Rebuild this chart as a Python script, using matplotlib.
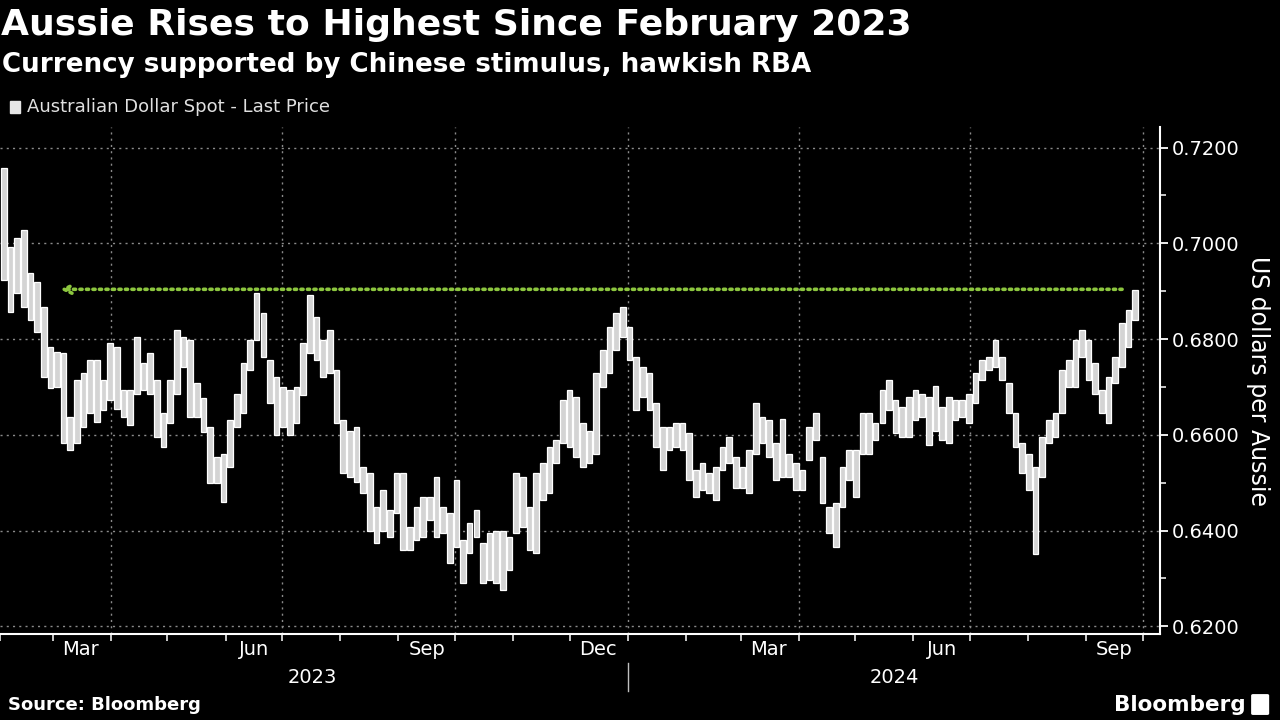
import numpy as np
import pandas as pd
import matplotlib
matplotlib.use("Agg")
import matplotlib.pyplot as plt
import matplotlib.dates as mdates
from matplotlib.ticker import MultipleLocator, FixedLocator, NullFormatter

# high / low of the AUD spot band, every ~3.5 days
hi = [0.7157, 0.6993, 0.7011, 0.7028, 0.6938, 0.6919, 0.6867, 0.6783, 0.6773, 0.6771,
      0.6637, 0.6714, 0.6729, 0.6756, 0.6756, 0.6714, 0.6792, 0.6783, 0.6693, 0.6693,
      0.6804, 0.6750, 0.6771, 0.6714, 0.6645, 0.6714, 0.6819, 0.6804, 0.6798, 0.6708,
      0.6676, 0.6616, 0.6553, 0.6561, 0.6630, 0.6686, 0.6750, 0.6798, 0.6896, 0.6854,
      0.6756, 0.6720, 0.6699, 0.6693, 0.6699, 0.6792, 0.6892, 0.6846, 0.6798, 0.6819,
      0.6735, 0.6630, 0.6609, 0.6616, 0.6532, 0.6520, 0.6449, 0.6484, 0.6443, 0.6520,
      0.6520, 0.6407, 0.6449, 0.6470, 0.6470, 0.6512, 0.6449, 0.6436, 0.6505, 0.6380,
      0.6415, 0.6443, 0.6374, 0.6394, 0.6400, 0.6400, 0.6386, 0.6520, 0.6512, 0.6449,
      0.6520, 0.6541, 0.6574, 0.6589, 0.6672, 0.6693, 0.6679, 0.6624, 0.6609, 0.6729,
      0.6777, 0.6825, 0.6854, 0.6867, 0.6825, 0.6762, 0.6741, 0.6729, 0.6666, 0.6616,
      0.6616, 0.6624, 0.6624, 0.6603, 0.6526, 0.6541, 0.6520, 0.6532, 0.6574, 0.6595,
      0.6553, 0.6532, 0.6568, 0.6666, 0.6637, 0.6630, 0.6583, 0.6634, 0.6561, 0.6541,
      0.6526, 0.6616, 0.6645, 0.6553, 0.6449, 0.6457, 0.6532, 0.6568, 0.6568, 0.6645,
      0.6645, 0.6624, 0.6693, 0.6714, 0.6672, 0.6658, 0.6679, 0.6693, 0.6686, 0.6679,
      0.6703, 0.6658, 0.6679, 0.6672, 0.6672, 0.6686, 0.6729, 0.6756, 0.6762, 0.6798,
      0.6762, 0.6708, 0.6645, 0.6583, 0.6561, 0.6532, 0.6595, 0.6630, 0.6645, 0.6735,
      0.6756, 0.6798, 0.6819, 0.6798, 0.6750, 0.6693, 0.6720, 0.6762, 0.6833, 0.6860,
      0.6902]
lo = [0.6924, 0.6856, 0.6896, 0.6867, 0.6840, 0.6815, 0.6720, 0.6697, 0.6699, 0.6583,
      0.6568, 0.6583, 0.6616, 0.6645, 0.6627, 0.6651, 0.6672, 0.6655, 0.6637, 0.6620,
      0.6686, 0.6693, 0.6686, 0.6595, 0.6574, 0.6624, 0.6686, 0.6741, 0.6637, 0.6637,
      0.6605, 0.6499, 0.6499, 0.6459, 0.6532, 0.6616, 0.6645, 0.6735, 0.6798, 0.6762,
      0.6666, 0.6599, 0.6616, 0.6599, 0.6624, 0.6683, 0.6771, 0.6756, 0.6720, 0.6729,
      0.6624, 0.6520, 0.6511, 0.6501, 0.6478, 0.6400, 0.6374, 0.6400, 0.6386, 0.6436,
      0.6359, 0.6359, 0.6380, 0.6386, 0.6422, 0.6386, 0.6394, 0.6332, 0.6365, 0.6290,
      0.6353, 0.6386, 0.6290, 0.6296, 0.6290, 0.6275, 0.6317, 0.6394, 0.6407, 0.6359,
      0.6353, 0.6463, 0.6478, 0.6541, 0.6583, 0.6574, 0.6553, 0.6532, 0.6541, 0.6561,
      0.6699, 0.6729, 0.6777, 0.6804, 0.6756, 0.6651, 0.6679, 0.6651, 0.6574, 0.6526,
      0.6568, 0.6574, 0.6568, 0.6505, 0.6470, 0.6484, 0.6478, 0.6463, 0.6526, 0.6541,
      0.6490, 0.6490, 0.6478, 0.6561, 0.6583, 0.6553, 0.6505, 0.6511, 0.6511, 0.6484,
      0.6484, 0.6547, 0.6589, 0.6457, 0.6394, 0.6365, 0.6449, 0.6505, 0.6470, 0.6561,
      0.6561, 0.6589, 0.6624, 0.6651, 0.6603, 0.6595, 0.6595, 0.6630, 0.6637, 0.6578,
      0.6609, 0.6589, 0.6583, 0.6630, 0.6637, 0.6624, 0.6666, 0.6714, 0.6735, 0.6741,
      0.6714, 0.6645, 0.6574, 0.6520, 0.6484, 0.6352, 0.6511, 0.6583, 0.6595, 0.6645,
      0.6699, 0.6699, 0.6762, 0.6714, 0.6686, 0.6645, 0.6624, 0.6708, 0.6741, 0.6783,
      0.6840]
dates = pd.date_range("2023-02-03", "2024-09-27", periods=len(hi))
feb_level = 0.6904

hi = np.array(hi)
lo = np.array(lo)

plt.rcParams['font.family'] = ['DejaVu Sans']
fig = plt.figure(figsize=(12.8, 7.2), dpi=100, facecolor='black')
ax = fig.add_axes([0.0, 0.1194, 0.906, 0.7042])
ax.set_facecolor('black')

# gridlines
for v in np.arange(0.62, 0.7201, 0.02):
    ax.axhline(v, color='#8a8a8a', ls=(0, (1.5, 3)), lw=1, zorder=1)
for d in pd.date_range("2023-04-01", "2024-10-01", freq="QS"):
    ax.axvline(d, color='#8a8a8a', ls=(0, (1.5, 3)), lw=1, zorder=1)

# price bars
ax.bar(dates, hi - lo, bottom=lo, width=3.0, color='#d4d4d4',
       edgecolor='white', linewidth=0.9, zorder=3)

# green dotted reference line with arrow
ax.annotate('', xy=(pd.Timestamp("2023-03-05"), feb_level),
            xytext=(pd.Timestamp("2024-09-20"), feb_level),
            arrowprops=dict(arrowstyle='->', color='#8cc63f', lw=2.6,
                            linestyle=(0, (0.6, 1.2)), mutation_scale=14,
                            shrinkA=0, shrinkB=0), zorder=2)

ax.set_xlim(pd.Timestamp("2023-02-01"), pd.Timestamp("2024-10-10"))
ax.set_ylim(0.6184, 0.7243)

# spines
for s in ['top', 'left']:
    ax.spines[s].set_visible(False)
ax.spines['right'].set_color('white')
ax.spines['bottom'].set_color('white')
ax.spines['right'].set_linewidth(1.5)
ax.spines['bottom'].set_linewidth(1.5)

# y axis on the right
ax.yaxis.tick_right()
ax.yaxis.set_label_position('right')
ax.yaxis.set_major_locator(MultipleLocator(0.02))
ax.yaxis.set_minor_locator(MultipleLocator(0.01))
ax.yaxis.set_major_formatter(matplotlib.ticker.FormatStrFormatter('%.4f'))
ax.tick_params(axis='y', which='major', colors='white', length=6, width=1.3,
               labelsize=14, pad=3, direction='out')
ax.tick_params(axis='y', which='minor', colors='white', length=4, width=1.1)
ax.set_ylabel('US dollars per Aussie', color='white', fontsize=17,
              rotation=-90, labelpad=22)

# x axis: monthly ticks, labels mid-month for Mar/Jun/Sep/Dec
ax.xaxis.set_major_locator(mdates.MonthLocator())
ax.xaxis.set_major_formatter(NullFormatter())
ax.tick_params(axis='x', which='major', colors='white', length=5, width=1.1)
mid_months = [pd.Timestamp(m) for m in ["2023-03-16", "2023-06-16", "2023-09-16",
                                          "2023-12-16", "2024-03-16", "2024-06-16",
                                          "2024-09-16"]]
month_names = ["Mar", "Jun", "Sep", "Dec", "Mar", "Jun", "Sep"]
ax.xaxis.set_minor_locator(FixedLocator(mdates.date2num(mid_months)))
ax.xaxis.set_minor_formatter(matplotlib.ticker.FixedFormatter(month_names))
ax.tick_params(axis='x', which='minor', length=0, labelsize=14, colors='white', pad=4)

trans = ax.get_xaxis_transform()
years = [("2023", pd.Timestamp("2023-07-17")), ("2024", pd.Timestamp("2024-05-22"))]
for txt, d in years:
    ax.text(d, -0.085, txt, transform=trans, ha='center', va='center',
            color='white', fontsize=14)
ax.plot([pd.Timestamp("2024-01-01")] * 2, [-0.058, -0.112], transform=trans,
        color='#bfbfbf', lw=1, clip_on=False)

# titles and legend
fig.text(0.0005, 0.965, 'Aussie Rises to Highest Since February 2023', color='white',
         fontsize=26, fontweight='bold', ha='left', va='center')
fig.text(0.0015, 0.91, 'Currency supported by Chinese stimulus, hawkish RBA', color='white',
         fontsize=18.8, fontweight='bold', ha='left', va='center')
fig.patches.append(matplotlib.patches.Rectangle((0.0078, 0.843), 0.0078, 0.017,
                   transform=fig.transFigure, color='#e6e6e6'))
fig.text(0.021, 0.852, 'Australian Dollar Spot - Last Price', color='#e0e0e0',
         fontsize=13, ha='left', va='center')

fig.text(0.006, 0.021, 'Source: Bloomberg', color='white', fontsize=13,
         fontweight='bold', ha='left', va='center')
fig.text(0.973, 0.021, 'Bloomberg', color='white', fontsize=15.5,
         fontweight='bold', ha='right', va='center')
fig.patches.append(matplotlib.patches.FancyBboxPatch((0.979, 0.009), 0.011, 0.025,
                   boxstyle='round,pad=0.001', transform=fig.transFigure,
                   color='white'))

fig.savefig('out.png', dpi=100, facecolor='black')
